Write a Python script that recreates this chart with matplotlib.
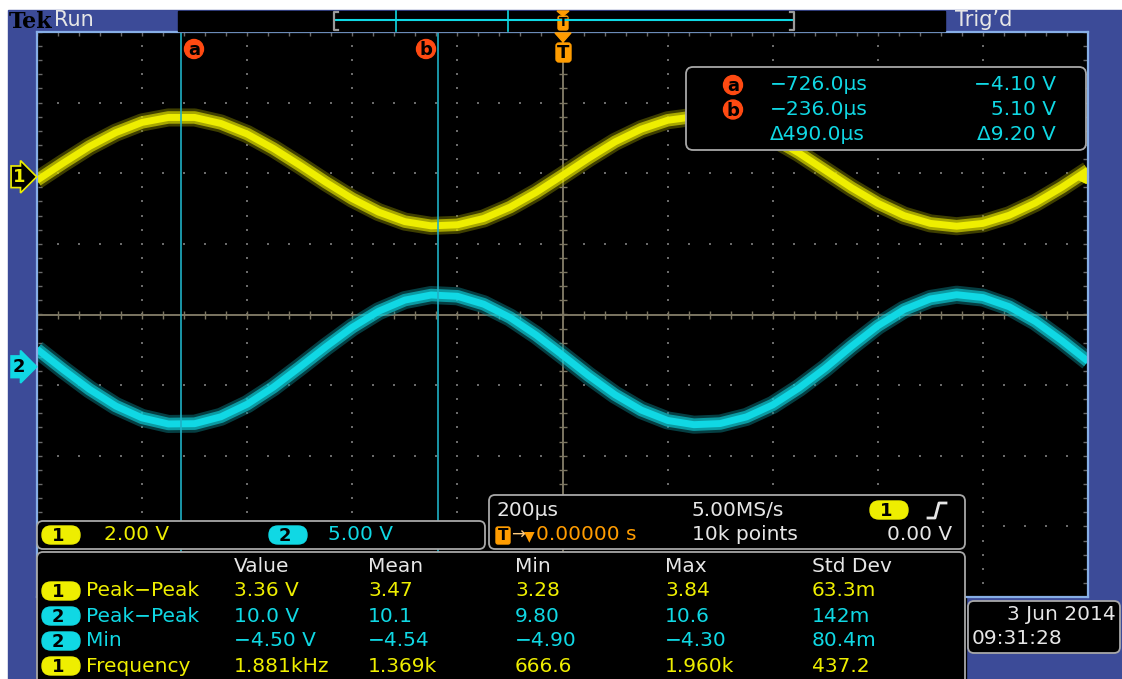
import matplotlib
matplotlib.use("Agg")
import matplotlib.pyplot as plt
import matplotlib.transforms as mtransforms
import numpy as np
from matplotlib.patches import FancyBboxPatch, Rectangle, Circle, Polygon

# ---- values ----
time_us = list(range(-1000, 1001, 50))
ch1_volts = [-0.10, 0.39, 0.86, 1.25, 1.54, 1.68, 1.68, 1.51, 1.21, 0.80,
             0.33, -0.16, -0.62, -1.00, -1.27, -1.39, -1.36, -1.18, -0.86, -0.44,
             0.04, 0.53, 0.99, 1.35, 1.60, 1.70, 1.64, 1.44, 1.10, 0.67,
             0.18, -0.31, -0.75, -1.10, -1.32, -1.40, -1.32, -1.09, -0.74, -0.30,
             0.19]
ch2_volts = [1.25, -0.21, -1.60, -2.78, -3.62, -4.05, -4.03, -3.54, -2.65, -1.44,
             -0.03, 1.42, 2.79, 3.93, 4.72, 5.08, 4.99, 4.43, 3.49, 2.24,
             0.82, -0.64, -1.98, -3.07, -3.80, -4.10, -4.02, -3.55, -2.70, -1.50,
             -0.10, 1.45, 2.90, 4.05, 4.80, 5.10, 4.90, 4.25, 3.20, 1.85,
             0.38]

ch1_scale, ch2_scale = 2.0, 5.0      # V/div
ch1_pos, ch2_pos = 1.95, -0.74       # div
cursor_a, cursor_b = -726.0, -236.0  # us
trig_level = 0.0

cursor_rows = [("a", "\u2212726.0\u00b5s", "\u22124.10 V"),
               ("b", "\u2212236.0\u00b5s", "5.10 V"),
               ("", "\u0394490.0\u00b5s", "\u03949.20 V")]

meas_headers = ["Value", "Mean", "Min", "Max", "Std Dev"]
meas_rows = [
    (1, "Peak\u2212Peak", ["3.36 V", "3.47", "3.28", "3.84", "63.3m"]),
    (2, "Peak\u2212Peak", ["10.0 V", "10.1", "9.80", "10.6", "142m"]),
    (2, "Min", ["\u22124.50 V", "\u22124.54", "\u22124.90", "\u22124.30", "80.4m"]),
    (1, "Frequency", ["1.881kHz", "1.369k", "666.6", "1.960k", "437.2"]),
]

YEL = "#eeee00"
CYA = "#10d8e4"
WHT = "#e6e6e6"
ORG = "#ff9c00"
RED = "#ff4a12"
BLUE = "#3c4b98"
EDGE = "#86aee6"
GRID = "#6a6a6a"
AXIS = "#7c7662"
FS = 14.5

plt.rcParams["font.family"] = ["DejaVu Sans"]

fig = plt.figure(figsize=(11.22, 6.79), dpi=100, facecolor="white")
W, H = 1122, 679

# background (blue frame)
bg = fig.add_axes([0, 0, 1, 1], zorder=0)
bg.set_xlim(0, W)
bg.set_ylim(H, 0)
bg.axis("off")
bg.add_patch(Rectangle((8, 10), W - 8, H - 10, color=BLUE))
bg.add_patch(Rectangle((37, 590), 929, 89, color="black"))

# scope graticule
x0, x1, y0, y1 = 37, 1088, 32, 597
ax = fig.add_axes([x0 / W, 1 - y1 / H, (x1 - x0) / W, (y1 - y0) / H], zorder=1)
ax.set_facecolor("black")
ax.set_xlim(-1000, 1000)
ax.set_ylim(-4, 4)
ax.set_xticks([])
ax.set_yticks([])
for s in ax.spines.values():
    s.set_color(EDGE)
    s.set_linewidth(1.6)

fine_y = np.arange(-4, 4.01, 0.2)
fine_x = np.arange(-1000, 1001, 40)
for gx in range(-800, 801, 200):
    if gx != 0:
        ax.scatter([gx] * len(fine_y), fine_y, s=1.2, color=GRID, marker="s", lw=0)
for gy in range(-3, 4):
    if gy != 0:
        ax.scatter(fine_x, [gy] * len(fine_x), s=1.2, color=GRID, marker="s", lw=0)
ax.axhline(0, color=AXIS, lw=1.4)
ax.axvline(0, color=AXIS, lw=1.4)
ax.scatter(fine_x, [0] * len(fine_x), marker="|", s=40, color=AXIS, lw=1)
ax.scatter([0] * len(fine_y), fine_y, marker="_", s=40, color=AXIS, lw=1)
# edge ticks
ax.scatter(fine_x, [3.97] * len(fine_x), marker="|", s=12, color=GRID, lw=1)
ax.scatter([-995] * len(fine_y), fine_y, marker="_", s=12, color=GRID, lw=1)
ax.scatter([995] * len(fine_y), fine_y, marker="_", s=12, color=GRID, lw=1)

# traces with phosphor glow
ch1_div = np.array(ch1_volts) / ch1_scale + ch1_pos
ch2_div = np.array(ch2_volts) / ch2_scale + ch2_pos
for yy, col, dim in [(ch1_div, YEL, "#8a8a00"), (ch2_div, CYA, "#0c8a94")]:
    ax.plot(time_us, yy, color=dim, lw=13, alpha=0.45, solid_capstyle="butt")
    ax.plot(time_us, yy, color=col, lw=9, alpha=0.6, solid_capstyle="butt")
    ax.plot(time_us, yy, color=col, lw=5, solid_capstyle="butt")

# cursors
for cx in (cursor_a, cursor_b):
    ax.axvline(cx, color="#1fb0c4", lw=1.2)

# channel markers and trigger level
blend = mtransforms.blended_transform_factory(ax.transAxes, ax.transData)
ax.text(-0.017, ch1_pos, "1", transform=blend, color=YEL, fontsize=13, fontweight="bold",
        ha="center", va="center", clip_on=False,
        bbox=dict(boxstyle="rarrow,pad=0.1", fc="black", ec=YEL, lw=1.2))
ax.text(-0.017, ch2_pos, "2", transform=blend, color="black", fontsize=13, fontweight="bold",
        ha="center", va="center", clip_on=False,
        bbox=dict(boxstyle="rarrow,pad=0.1", fc=CYA, ec=CYA, lw=1.2))
ax.plot([985], [ch1_pos + trig_level / ch1_scale], marker="<", ms=9, color=YEL, clip_on=False)
ax.plot([985, 1000], [ch1_pos + trig_level / ch1_scale] * 2, color=YEL, lw=1.5, clip_on=False)

# overlay for panels and readouts
ov = fig.add_axes([0, 0, 1, 1], zorder=2)
ov.set_xlim(0, W)
ov.set_ylim(H, 0)
ov.axis("off")
ov.patch.set_alpha(0)


def panel(x, y, w, h, r=6):
    ov.add_patch(FancyBboxPatch((x, y), w, h, boxstyle="round,pad=0,rounding_size=%d" % r,
                                fc="black", ec="#a8a8a8", lw=1.3))


def badge(x, y, n):
    col = YEL if n == 1 else CYA
    ov.add_patch(FancyBboxPatch((x, y - 9), 38, 18, boxstyle="round,pad=0,rounding_size=9",
                                fc=col, ec=col))
    ov.text(x + 16, y + 1, str(n), color="black", fontsize=13, fontweight="bold",
            ha="center", va="center")


def circ_letter(x, y, letter):
    ov.add_patch(Circle((x, y), 9.5, color=RED))
    ov.text(x, y + 1, letter, color="black", fontsize=13, fontweight="bold",
            ha="center", va="center")


# top bar
ov.text(9, 22, "Tek", family="DejaVu Serif", fontsize=16, fontweight="bold",
        color="black", va="center", ha="left")
ov.text(54, 20, "Run", fontsize=15, color=WHT, va="center", ha="left")
ov.text(955, 20, "Trig\u2019d", fontsize=15, color=WHT, va="center", ha="left")
ov.add_patch(Rectangle((178, 11), 767, 20, color="black"))
ov.plot([335, 793], [20, 20], color=CYA, lw=1.5)
for bx, d in ((334, 4), (794, -4)):
    ov.plot([bx + d, bx, bx, bx + d], [12, 12, 30, 30], color="#9a9a9a", lw=1.6)
for tx in (396, 508):
    ov.plot([tx, tx], [11, 31], color=CYA, lw=1.2)
ov.add_patch(Polygon([[557, 11], [569, 11], [563, 16]], color=ORG))
ov.add_patch(FancyBboxPatch((558, 16), 10, 14, boxstyle="round,pad=0,rounding_size=2", fc=ORG, ec=ORG))
ov.text(563, 23, "T", color="black", fontsize=9, fontweight="bold", ha="center", va="center")

# trigger position marker on graticule
ov.add_patch(Polygon([[555, 33], [571, 33], [563, 42]], color=ORG))
ov.add_patch(FancyBboxPatch((556, 43), 15, 19, boxstyle="round,pad=0,rounding_size=3", fc=ORG, ec=ORG))
ov.text(563.5, 53, "T", color="black", fontsize=13, fontweight="bold", ha="center", va="center")

circ_letter(194, 49, "a")
circ_letter(426, 49, "b")

# cursor readout
panel(686, 67, 400, 83, r=7)
for i, (lt, tv, vv) in enumerate(cursor_rows):
    yy = 85 + i * 24.5
    if lt:
        circ_letter(733, yy, lt)
    ov.text(770, yy, tv, color=CYA, fontsize=FS, ha="left", va="center")
    ov.text(1056, yy, vv, color=CYA, fontsize=FS, ha="right", va="center")

# channel scale panel
panel(37, 521, 448, 28)
badge(42, 535, 1)
ov.text(104, 535, "2.00 V", color=YEL, fontsize=FS, ha="left", va="center")
badge(269, 535, 2)
ov.text(328, 535, "5.00 V", color=CYA, fontsize=FS, ha="left", va="center")

# horizontal / trigger panel
panel(489, 495, 476, 54)
ov.text(497, 510, "200\u00b5s", color=WHT, fontsize=FS, ha="left", va="center")
ov.text(692, 510, "5.00MS/s", color=WHT, fontsize=FS, ha="left", va="center")
badge(870, 510, 1)
ov.plot([928, 935, 939, 946], [518, 518, 503, 503], color=WHT, lw=2)
ov.add_patch(FancyBboxPatch((496, 527), 14, 17, boxstyle="round,pad=0,rounding_size=2", fc=ORG, ec=ORG))
ov.text(503, 536, "T", color="black", fontsize=11, fontweight="bold", ha="center", va="center")
ov.text(511, 535, "\u2192", color="#ffcc80", fontsize=12, ha="left", va="center")
ov.text(524, 536, "\u25bc", color=ORG, fontsize=10, ha="left", va="center")
ov.text(536, 535, "0.00000 s", color=ORG, fontsize=FS, ha="left", va="center")
ov.text(692, 535, "10k points", color=WHT, fontsize=FS, ha="left", va="center")
ov.text(952, 535, "0.00 V", color=WHT, fontsize=FS, ha="right", va="center")

# measurement panel
panel(37, 552, 928, 140)
col_x = [234, 368, 515, 665, 812]
for cx, hd in zip(col_x, meas_headers):
    ov.text(cx, 566, hd, color=WHT, fontsize=FS, ha="left", va="center")
for i, (ch, name, vals) in enumerate(meas_rows):
    yy = 591 + i * 25
    col = YEL if ch == 1 else CYA
    badge(42, yy, ch)
    ov.text(86, yy, name, color=col, fontsize=FS, ha="left", va="center")
    for cx, v in zip(col_x, vals):
        ov.text(cx, yy, v, color=col, fontsize=FS, ha="left", va="center")

# date box
panel(968, 601, 152, 52)
ov.text(1116, 614, "3 Jun 2014", color=WHT, fontsize=FS, ha="right", va="center")
ov.text(972, 639, "09:31:28", color=WHT, fontsize=FS, ha="left", va="center")

fig.savefig("out.png", dpi=100, facecolor="white")
